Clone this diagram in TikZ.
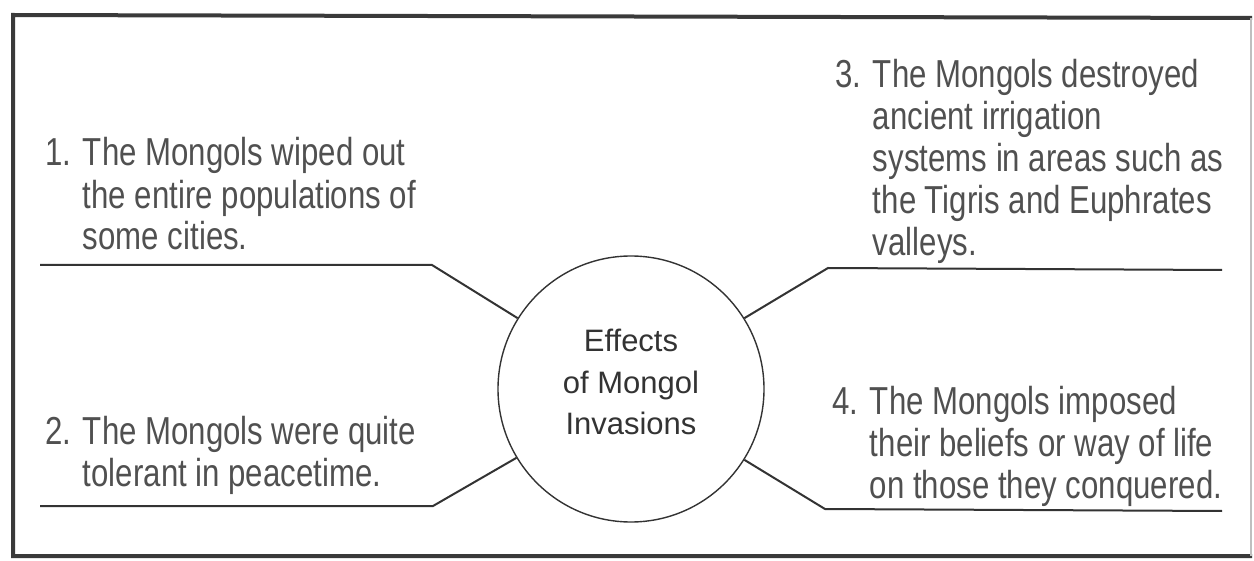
\documentclass[tikz,border=0pt]{standalone}
\usepackage{fontspec}
\setmainfont{Liberation Sans}
\newfontfamily\sidefont{Liberation Sans}[FakeStretch=0.8]
\definecolor{textgray}{HTML}{505050}
\definecolor{linegray}{HTML}{333333}
\definecolor{framegray}{HTML}{3A3A3A}
\begin{document}
\begin{tikzpicture}[x=0.5pt,y=-0.5pt,
  sidetext/.style={anchor=base west, inner sep=0pt, align=left, text=textgray,
    font=\sidefont\fontsize{19.5pt}{21pt}\selectfont},
  conn/.style={draw=linegray, line width=1pt, line join=miter},
  hub/.style={circle, draw=linegray, line width=0.7pt, minimum size=133pt, inner sep=0pt},
  hubtext/.style={inner sep=0pt, align=center, text=black!80,
    font=\fontsize{15.5pt}{20.75pt}\selectfont}]
\useasboundingbox (0,0) rectangle (1254,561);
% frame
\draw[framegray, line width=2pt] (1252,18) -- (13,15) -- (13,556) -- (1252,556);
\draw[black!25, line width=0.6pt] (1251,18) -- (1251,556);
% hub
\node[hub] (hub) at (631,389) {};
\node[hubtext] (title) at (631,382) {Effects\\of Mongol\\Invasions};
% texts (anchored at the baseline of their last line)
\node[sidetext] (t1) at (45,250) {1. The Mongols wiped out\\\hphantom{1. }the entire populations of\\\hphantom{1. }some cities.};
\node[sidetext] (t2) at (45,487) {2. The Mongols were quite\\\hphantom{2. }tolerant in peacetime.};
\node[sidetext] (t3) at (835,256) {3. The Mongols destroyed\\\hphantom{3. }ancient irrigation\\\hphantom{3. }systems in areas such as\\\hphantom{3. }the Tigris and Euphrates\\\hphantom{3. }valleys.};
\node[sidetext] (t4) at (832,498) {4. The Mongols imposed\\\hphantom{4. }their beliefs or way of life\\\hphantom{4. }on those they conquered.};
% connector coordinates
\coordinate (e1) at (40,265);  \coordinate (k1) at (432,265);
\coordinate (e2) at (40,506);  \coordinate (k2) at (433,506);
\coordinate (e3) at (1222,270); \coordinate (k3) at (828,268);
\coordinate (e4) at (1222,511); \coordinate (k4) at (825,509);
\draw[conn] (e1) -- (k1) -- (hub.148);
\draw[conn] (e2) -- (k2) -- (hub.211);
\draw[conn] (e3) -- (k3) -- (hub.32);
\draw[conn] (e4) -- (k4) -- (hub.-32);
\end{tikzpicture}
\end{document}
